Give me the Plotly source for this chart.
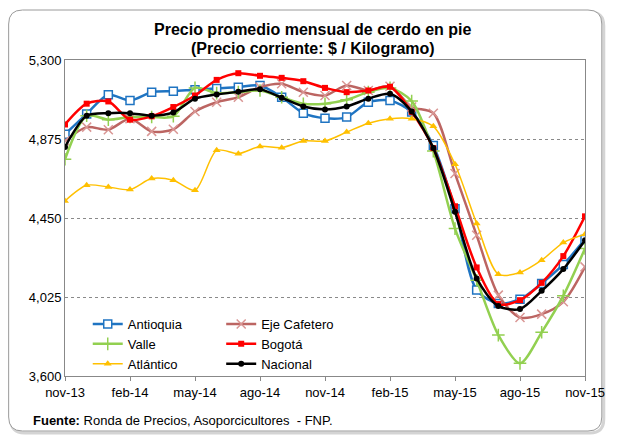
import plotly.graph_objects as go

months = ["nov-13","dic-13","ene-14","feb-14","mar-14","abr-14","may-14","jun-14","jul-14",
          "ago-14","sep-14","oct-14","nov-14","dic-14","ene-15","feb-15","mar-15","abr-15",
          "may-15","jun-15","jul-15","ago-15","sep-15","oct-15","nov-15"]
tick_labels = ["nov-13","feb-14","may-14","ago-14","nov-14","feb-15","may-15","ago-15","nov-15"]
y_ticks = [3600, 4025, 4450, 4875, 5300]

antioquia = [4900, 5010, 5113, 5082, 5127, 5132, 5140, 5147, 5154, 5163, 5100, 5014, 4987,
             4993, 5073, 5082, 5020, 4840, 4500, 4062, 3990, 4013, 4098, 4200, 4335]
eje_cafetero = [4864, 4939, 4925, 4984, 4916, 4927, 5023, 5073, 5100, 5154, 5172, 5127, 5109,
                5163, 5136, 5159, 5047, 5014, 4689, 4357, 4035, 3915, 3933, 3999, 4187]
valle = [4766, 5000, 4979, 4993, 4993, 4997, 5150, 5122, 5127, 5136, 5100, 5065, 5065,
         5086, 5127, 5150, 5079, 4810, 4393, 4115, 3820, 3668, 3835, 4032, 4286]
bogota = [4953, 5065, 5077, 4979, 4997, 5047, 5109, 5193, 5229, 5215, 5204, 5186, 5150,
          5127, 5136, 5156, 5020, 4826, 4513, 4184, 3987, 4008, 4101, 4245, 4459]
atlantico = [4542, 4626, 4617, 4603, 4662, 4653, 4599, 4814, 4796, 4835, 4828, 4864, 4864,
             4912, 4960, 4984, 4984, 4943, 4739, 4420, 4148, 4157, 4223, 4318, 4363]
nacional = [4832, 5000, 5014, 5014, 5000, 5018, 5092, 5115, 5129, 5142, 5097, 5050, 5034,
            5050, 5092, 5118, 5023, 4826, 4483, 4125, 3976, 3960, 4058, 4175, 4330]

# the page body adds an 8px offset; work in screen pixels and subtract it
OFF = 8
W, H = 617 - OFF, 437 - OFF
L, R, T, B = 65, 591, 60, 376  # plot area in screen pixels

def px(x):
    return (x - L) / (R - L)

def py(y):
    return (B - y) / (B - T)

fig = go.Figure()

series = [
    ("Antioquia", antioquia, "#1F74C2", 2.5, dict(symbol="square", size=8, color="white",
                                                   line=dict(color="#1F74C2", width=1.5)), "legend"),
    ("Eje Cafetero", eje_cafetero, "#BC6562", 2.5, dict(symbol="x-thin", size=9, color="#D99694",
                                                         line=dict(color="#D99694", width=1.5)), "legend2"),
    ("Valle", valle, "#92D050", 2.5, dict(symbol="cross-thin", size=9, color="#92D050",
                                           line=dict(color="#92D050", width=1.5)), "legend"),
    ("Bogotá", bogota, "#FF0000", 2.5, dict(symbol="square", size=6, color="#FF0000"), "legend2"),
    ("Atlántico", atlantico, "#FFC000", 1.5, dict(symbol="triangle-up", size=7, color="#FFC000"), "legend"),
    ("Nacional", nacional, "#000000", 2.5, dict(symbol="circle", size=6, color="#000000"), "legend2"),
]

for name, vals, color, w, marker, lg in series:
    fig.add_trace(go.Scatter(
        x=months, y=vals, name=name, mode="lines+markers",
        line=dict(color=color, width=w, shape="spline", smoothing=0.8),
        marker=marker, legend=lg,
    ))

def frame_path(x0, y0, x1, y1, r):
    pts = [
        f"M {px(x0 + r)},{py(y0)}",
        f"L {px(x1 - r)},{py(y0)}",
        f"Q {px(x1)},{py(y0)} {px(x1)},{py(y0 + r)}",
        f"L {px(x1)},{py(y1 - r)}",
        f"Q {px(x1)},{py(y1)} {px(x1 - r)},{py(y1)}",
        f"L {px(x0 + r)},{py(y1)}",
        f"Q {px(x0)},{py(y1)} {px(x0)},{py(y1 - r)}",
        f"L {px(x0)},{py(y0 + r)}",
        f"Q {px(x0)},{py(y0)} {px(x0 + r)},{py(y0)}",
        "Z",
    ]
    return " ".join(pts)

fig.add_shape(type="path", xref="paper", yref="paper", path=frame_path(10, 12, 610, 433, 14),
              line=dict(color="#D4D4D4", width=3), fillcolor="rgba(0,0,0,0)", layer="below")
fig.add_shape(type="path", xref="paper", yref="paper", path=frame_path(8, 10, 608, 431, 14),
              line=dict(color="#9A9A9A", width=1), fillcolor="white", layer="below")

title_font = dict(family="Liberation Sans, Arial", size=16, color="#000")
fig.add_annotation(xref="paper", yref="paper", x=px(316), y=py(30), xanchor="center", yanchor="middle",
                   text="<b>Precio promedio mensual de cerdo en pie</b>", showarrow=False, font=title_font)
fig.add_annotation(xref="paper", yref="paper", x=px(316), y=py(48), xanchor="center", yanchor="middle",
                   text="<b>(Precio corriente: $ / Kilogramo)</b>", showarrow=False, font=title_font)

fig.add_annotation(xref="paper", yref="paper", x=px(31), y=py(420), xanchor="left", yanchor="middle",
                   text="<b>Fuente:</b> Ronda de Precios, Asoporcicultores  - FNP.",
                   showarrow=False, font=dict(family="Liberation Sans, Arial", size=13, color="#000"))

fig.update_layout(
    width=W, height=H,
    margin=dict(l=L - OFF, r=W - (R - OFF), t=T - OFF, b=H - (B - OFF)),
    paper_bgcolor="white", plot_bgcolor="white",
    font=dict(family="Liberation Sans, Arial", size=13, color="#000"),
    xaxis=dict(
        type="category", range=[0, len(months) - 1], tickmode="array", tickvals=tick_labels,
        ticktext=tick_labels, ticks="outside", ticklen=4, tickcolor="#888", showgrid=False,
        showline=True, linecolor="#888", linewidth=1, mirror=True,
        tickfont=dict(size=13),
    ),
    yaxis=dict(
        range=[3600, 5300], tickvals=y_ticks, tickformat=",d", showgrid=True,
        gridcolor="#8A8A8A", griddash="dot", gridwidth=1, zeroline=False,
        showline=True, linecolor="#888", linewidth=1, mirror=True, ticks="",
        tickfont=dict(size=13),
    ),
    legend=dict(x=px(88), y=py(309), xanchor="left", yanchor="top", bgcolor="rgba(0,0,0,0)",
                font=dict(family="Liberation Sans, Arial", size=13), tracegroupgap=0, itemwidth=30),
    legend2=dict(x=px(223), y=py(309), xanchor="left", yanchor="top", bgcolor="rgba(0,0,0,0)",
                 font=dict(family="Liberation Sans, Arial", size=13), tracegroupgap=0, itemwidth=30),
)

fig.write_html("out.html")
